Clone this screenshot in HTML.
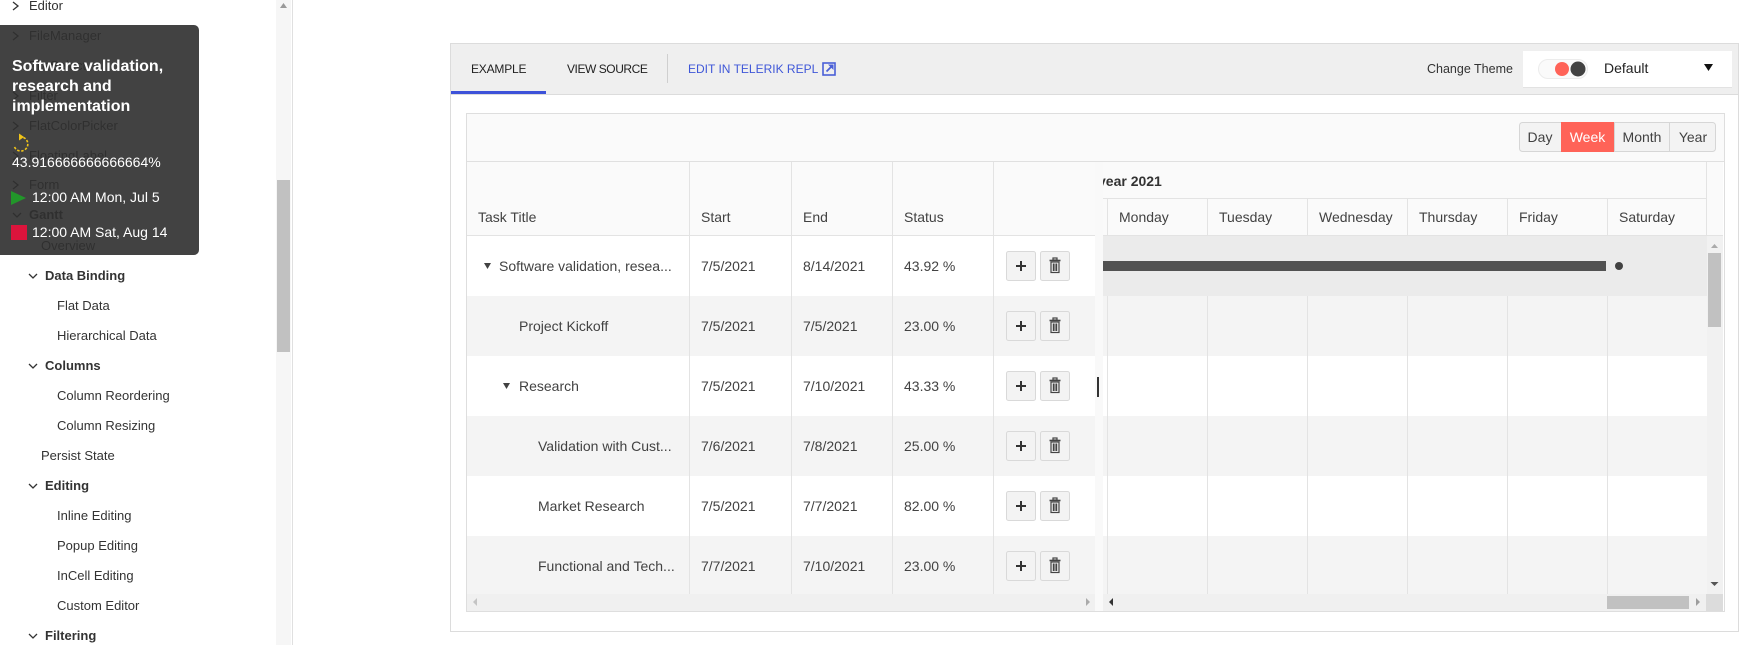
<!DOCTYPE html>
<html><head><meta charset="utf-8">
<style>
*{margin:0;padding:0;box-sizing:border-box}
html,body{width:1752px;height:645px;overflow:hidden;background:#fff;font-family:"Liberation Sans",Arial,sans-serif;color:#424242}
.t{position:absolute;white-space:nowrap;line-height:20px;z-index:2}
.s{font-size:13px;color:#333}
.b{font-weight:bold}
.c{font-size:14px;color:#424242}
.tab{font-size:12px;color:#222}
.btn{font-size:14px;color:#424242;text-align:center}
svg.main{position:absolute;left:0;top:0;z-index:1}
#tip{position:absolute;left:0;top:25px;width:199px;height:230px;background:rgba(47,47,47,0.91);border-radius:0 5px 5px 0;z-index:3;color:#fff}
#tip .t{color:#fff}
</style></head><body>

<svg class="main" width="1752" height="645" viewBox="0 0 1752 645" xmlns="http://www.w3.org/2000/svg">
  <rect x="276" y="0" width="15" height="645" fill="#f6f6f6"/>
  <rect x="277" y="180" width="13" height="172" fill="#c1c1c1"/>
  <polygon points="280,8 287,8 283.5,3" fill="#9a9a9a"/>
  <rect x="292" y="0" width="1" height="645" fill="#e0e0e0"/>
  <g fill="none" stroke="#333" stroke-width="1.3">
    <polyline points="13,2 18,6 13,10"/>
    <polyline points="13,32 18,36 13,40"/>
    <polyline points="13,62 18,66 13,70"/>
    <polyline points="13,92 18,96 13,100"/>
    <polyline points="13,122 18,126 13,130"/>
    <polyline points="13,152 18,156 13,160"/>
    <polyline points="13,181 18,185 13,189"/>
    <polyline points="13,213 17,217 21,213"/>
    <polyline points="29,274 33,278 37,274"/>
    <polyline points="29,364 33,368 37,364"/>
    <polyline points="29,484 33,488 37,484"/>
    <polyline points="29,634 33,638 37,634"/>
  </g>

  <rect x="450.5" y="43.5" width="1288" height="588" fill="#fff" stroke="#dcdcdc"/>
  <rect x="451" y="44" width="1287" height="50" fill="#efefef"/>
  <rect x="451" y="94" width="1287" height="1" fill="#dcdcdc"/>
  <rect x="451" y="91" width="95" height="3" fill="#3d52d9"/>
  <rect x="667" y="54" width="1" height="29" fill="#cfcfcf"/>
  <rect x="823" y="63" width="12" height="12" fill="none" stroke="#4a5fd8" stroke-width="1.6"/>
  <line x1="826.5" y1="71.5" x2="832" y2="66" stroke="#4a5fd8" stroke-width="1.8"/>
  <polygon points="828,64.5 833.5,64.5 833.5,70" fill="#4a5fd8"/>
  <rect x="1523" y="52" width="209" height="36" fill="#e2e2e2"/>
  <rect x="1523" y="51" width="209" height="36" fill="#fff"/>
  <rect x="1538.5" y="59.5" width="49" height="19" rx="9.5" fill="#fafafa" stroke="#ececec"/>
  <circle cx="1562" cy="69" r="7" fill="#ff6358"/>
  <circle cx="1578" cy="69" r="7.5" fill="#424242"/>
  <polygon points="1704,64 1713,64 1708.5,71" fill="#111"/>

  <rect x="466.5" y="113.5" width="1258" height="498" fill="#fff" stroke="#dedede"/>
  <rect x="467" y="114" width="1257" height="47" fill="#fafafa"/>
  <rect x="467" y="161" width="1257" height="1" fill="#e0e0e0"/>
  <rect x="1519.5" y="122.5" width="196" height="29" rx="3" fill="#f3f3f3" stroke="#d6d6d6"/>
  <rect x="1561" y="122" width="53" height="30" fill="#ff6358"/>
  <rect x="1614" y="123" width="1" height="28" fill="#d6d6d6"/>
  <rect x="1669" y="123" width="1" height="28" fill="#d6d6d6"/>
  <rect x="467" y="162" width="1256" height="73" fill="#fafafa"/>
  <rect x="467" y="236" width="628" height="60" fill="#fff"/>
  <rect x="467" y="296" width="628" height="60" fill="#f4f4f4"/>
  <rect x="467" y="356" width="628" height="60" fill="#fff"/>
  <rect x="467" y="416" width="628" height="60" fill="#f4f4f4"/>
  <rect x="467" y="476" width="628" height="60" fill="#fff"/>
  <rect x="467" y="536" width="628" height="58" fill="#f4f4f4"/>
  <rect x="1103" y="236" width="604" height="60" fill="#ebebeb"/>
  <rect x="1103" y="296" width="604" height="60" fill="#f4f4f4"/>
  <rect x="1103" y="356" width="604" height="60" fill="#fff"/>
  <rect x="1103" y="416" width="604" height="60" fill="#f4f4f4"/>
  <rect x="1103" y="476" width="604" height="60" fill="#fff"/>
  <rect x="1103" y="536" width="604" height="58" fill="#f4f4f4"/>
  <rect x="1095" y="162" width="8" height="449" fill="#f9f9f9"/>
  <g fill="#e3e3e3">
    <rect x="689" y="162" width="1" height="432"/>
    <rect x="791" y="162" width="1" height="432"/>
    <rect x="892" y="162" width="1" height="432"/>
    <rect x="993" y="162" width="1" height="432"/>
    <rect x="467" y="235" width="628" height="1"/>
    <rect x="1103" y="235" width="620" height="1"/>
    <rect x="1103" y="198" width="604" height="1"/>
    <rect x="1706" y="162" width="1" height="74"/>
    <rect x="1107" y="198" width="1" height="37"/>
    <rect x="1207" y="198" width="1" height="37"/>
    <rect x="1307" y="198" width="1" height="37"/>
    <rect x="1407" y="198" width="1" height="37"/>
    <rect x="1507" y="198" width="1" height="37"/>
    <rect x="1607" y="198" width="1" height="37"/>
    <rect x="1107" y="296" width="1" height="298"/>
    <rect x="1207" y="296" width="1" height="298"/>
    <rect x="1307" y="296" width="1" height="298"/>
    <rect x="1407" y="296" width="1" height="298"/>
    <rect x="1507" y="296" width="1" height="298"/>
    <rect x="1607" y="296" width="1" height="298"/>
  </g>
  <g fill="#f3f3f3" stroke="#d9d9d9">
    <rect x="1006.5" y="251.5" width="29" height="29" rx="2"/>
    <rect x="1040.5" y="251.5" width="29" height="29" rx="2"/>
    <rect x="1006.5" y="311.5" width="29" height="29" rx="2"/>
    <rect x="1040.5" y="311.5" width="29" height="29" rx="2"/>
    <rect x="1006.5" y="371.5" width="29" height="29" rx="2"/>
    <rect x="1040.5" y="371.5" width="29" height="29" rx="2"/>
    <rect x="1006.5" y="431.5" width="29" height="29" rx="2"/>
    <rect x="1040.5" y="431.5" width="29" height="29" rx="2"/>
    <rect x="1006.5" y="491.5" width="29" height="29" rx="2"/>
    <rect x="1040.5" y="491.5" width="29" height="29" rx="2"/>
    <rect x="1006.5" y="551.5" width="29" height="29" rx="2"/>
    <rect x="1040.5" y="551.5" width="29" height="29" rx="2"/>
  </g>
  <defs>
    <g id="plus" stroke="#333" stroke-width="2"><line x1="-5" y1="0" x2="5" y2="0"/><line x1="0" y1="-5" x2="0" y2="5"/></g>
    <g id="trash" fill="none" stroke="#444" stroke-width="1.2">
      <rect x="-2" y="-8" width="4" height="2"/>
      <line x1="-5.5" y1="-5.5" x2="5.5" y2="-5.5" stroke-width="1.6"/>
      <rect x="-4" y="-4" width="8" height="10.5"/>
      <line x1="-1.6" y1="-2.5" x2="-1.6" y2="5"/>
      <line x1="0" y1="-2.5" x2="0" y2="5"/>
      <line x1="1.6" y1="-2.5" x2="1.6" y2="5"/>
    </g>
  </defs>
  <use href="#plus" x="1021" y="266"/><use href="#trash" x="1055" y="266"/>
  <use href="#plus" x="1021" y="326"/><use href="#trash" x="1055" y="326"/>
  <use href="#plus" x="1021" y="386"/><use href="#trash" x="1055" y="386"/>
  <use href="#plus" x="1021" y="446"/><use href="#trash" x="1055" y="446"/>
  <use href="#plus" x="1021" y="506"/><use href="#trash" x="1055" y="506"/>
  <use href="#plus" x="1021" y="566"/><use href="#trash" x="1055" y="566"/>
  <polygon points="484,263 491,263 487.5,269" fill="#424242"/>
  <polygon points="503,383 510,383 506.5,389" fill="#424242"/>
  <rect x="1103" y="261" width="503" height="10" fill="#525252"/>
  <circle cx="1619" cy="266" r="4" fill="#424242"/>
  <rect x="1097" y="377" width="2" height="20" fill="#333"/>
  <rect x="467" y="594" width="628" height="17" fill="#f0f0f0"/>
  <polygon points="477,598 477,606 473,602" fill="#c4c4c4"/>
  <polygon points="1086,598 1086,606 1090,602" fill="#aaa"/>
  <rect x="1103" y="594" width="603" height="17" fill="#f0f0f0"/>
  <rect x="1607" y="596" width="82" height="13" fill="#c1c1c1"/>
  <polygon points="1113,598 1113,606 1109,602" fill="#333"/>
  <polygon points="1696,598 1696,606 1700,602" fill="#9d9d9d"/>
  <rect x="1706" y="594" width="17" height="17" fill="#dcdcdc"/>
  <rect x="1707" y="236" width="16" height="358" fill="#f1f1f1"/>
  <polygon points="1711,248 1718,248 1714.5,244" fill="#aaa"/>
  <rect x="1708" y="253" width="13" height="74" fill="#c1c1c1"/>
  <polygon points="1710.5,582 1718.5,582 1714.5,586" fill="#555"/>
</svg>

<div class="t s" style="left:29px;top:-4px">Editor</div>
<div class="t s" style="left:29px;top:26px">FileManager</div>
<div class="t s" style="left:29px;top:56px">FileSelect</div>
<div class="t s" style="left:29px;top:86px">Filter</div>
<div class="t s" style="left:29px;top:116px">FlatColorPicker</div>
<div class="t s" style="left:29px;top:146px">FloatingLabel</div>
<div class="t s" style="left:29px;top:175px">Form</div>
<div class="t s b" style="left:29px;top:205px">Gantt</div>
<div class="t s" style="left:41px;top:236px">Overview</div>
<div class="t s b" style="left:45px;top:266px">Data Binding</div>
<div class="t s" style="left:57px;top:296px">Flat Data</div>
<div class="t s" style="left:57px;top:326px">Hierarchical Data</div>
<div class="t s b" style="left:45px;top:356px">Columns</div>
<div class="t s" style="left:57px;top:386px">Column Reordering</div>
<div class="t s" style="left:57px;top:416px">Column Resizing</div>
<div class="t s" style="left:41px;top:446px">Persist State</div>
<div class="t s b" style="left:45px;top:476px">Editing</div>
<div class="t s" style="left:57px;top:506px">Inline Editing</div>
<div class="t s" style="left:57px;top:536px">Popup Editing</div>
<div class="t s" style="left:57px;top:566px">InCell Editing</div>
<div class="t s" style="left:57px;top:596px">Custom Editor</div>
<div class="t s b" style="left:45px;top:626px">Filtering</div>

<div class="t tab" style="left:471px;top:59px;letter-spacing:-0.2px">EXAMPLE</div>
<div class="t tab" style="left:567px;top:59px;letter-spacing:-0.45px">VIEW SOURCE</div>
<div class="t tab" style="left:688px;top:59px;color:#3f57d8">EDIT IN TELERIK REPL</div>
<div class="t" style="left:1427px;top:59px;font-size:12.5px;color:#333">Change Theme</div>
<div class="t" style="left:1604px;top:58px;font-size:14px;color:#222">Default</div>

<div class="t btn" style="left:1519px;top:127px;width:42px">Day</div>
<div class="t btn" style="left:1561px;top:127px;width:53px;color:#fff">Week</div>
<div class="t btn" style="left:1614px;top:127px;width:56px">Month</div>
<div class="t btn" style="left:1670px;top:127px;width:46px">Year</div>

<div class="t c" style="left:478px;top:207px">Task Title</div>
<div class="t c" style="left:701px;top:207px">Start</div>
<div class="t c" style="left:803px;top:207px">End</div>
<div class="t c" style="left:904px;top:207px">Status</div>
<div style="position:absolute;left:1103px;top:171px;width:600px;height:20px;overflow:hidden;z-index:2">
  <div class="t c b" style="left:-5px;top:0;color:#333">year 2021</div>
</div>
<div class="t c" style="left:1119px;top:207px">Monday</div>
<div class="t c" style="left:1219px;top:207px">Tuesday</div>
<div class="t c" style="left:1319px;top:207px">Wednesday</div>
<div class="t c" style="left:1419px;top:207px">Thursday</div>
<div class="t c" style="left:1519px;top:207px">Friday</div>
<div class="t c" style="left:1619px;top:207px">Saturday</div>

<div class="t c" style="left:499px;top:256px">Software validation, resea...</div>
<div class="t c" style="left:701px;top:256px">7/5/2021</div>
<div class="t c" style="left:803px;top:256px">8/14/2021</div>
<div class="t c" style="left:904px;top:256px">43.92 %</div>

<div class="t c" style="left:519px;top:316px">Project Kickoff</div>
<div class="t c" style="left:701px;top:316px">7/5/2021</div>
<div class="t c" style="left:803px;top:316px">7/5/2021</div>
<div class="t c" style="left:904px;top:316px">23.00 %</div>

<div class="t c" style="left:519px;top:376px">Research</div>
<div class="t c" style="left:701px;top:376px">7/5/2021</div>
<div class="t c" style="left:803px;top:376px">7/10/2021</div>
<div class="t c" style="left:904px;top:376px">43.33 %</div>

<div class="t c" style="left:538px;top:436px">Validation with Cust...</div>
<div class="t c" style="left:701px;top:436px">7/6/2021</div>
<div class="t c" style="left:803px;top:436px">7/8/2021</div>
<div class="t c" style="left:904px;top:436px">25.00 %</div>

<div class="t c" style="left:538px;top:496px">Market Research</div>
<div class="t c" style="left:701px;top:496px">7/5/2021</div>
<div class="t c" style="left:803px;top:496px">7/7/2021</div>
<div class="t c" style="left:904px;top:496px">82.00 %</div>

<div class="t c" style="left:538px;top:556px">Functional and Tech...</div>
<div class="t c" style="left:701px;top:556px">7/7/2021</div>
<div class="t c" style="left:803px;top:556px">7/10/2021</div>
<div class="t c" style="left:904px;top:556px">23.00 %</div>

<div id="tip">
  <div class="t b" style="left:12px;top:32px;font-size:16px;line-height:20px;white-space:normal;width:180px">Software validation,<br>research and<br>implementation</div>
  <svg style="position:absolute;left:0;top:0" width="199" height="230">
    <path d="M14.5,122 A7,7 0 1 0 21,112" fill="none" stroke="#f0c419" stroke-width="1.6" stroke-dasharray="2.5,1.6"/>
    <polygon points="19,108.5 24,112 19,115.5" fill="#f0c419"/>
    <polygon points="11,166 11,180 26,173" fill="#22962a"/>
    <rect x="11" y="200" width="16" height="15" fill="#dc143c"/>
  </svg>
  <div class="t" style="left:12px;top:127px;font-size:14px">43.916666666666664%</div>
  <div class="t" style="left:32px;top:162px;font-size:14px">12:00 AM Mon, Jul 5</div>
  <div class="t" style="left:32px;top:197px;font-size:14px">12:00 AM Sat, Aug 14</div>
</div>

</body></html>
